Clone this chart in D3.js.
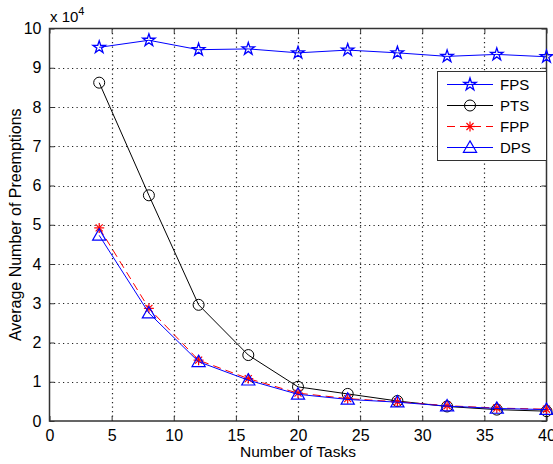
<!DOCTYPE html>
<html><head><meta charset="utf-8">
<script src="https://cdn.jsdelivr.net/npm/d3@7"></script>
<style>body{margin:0;background:#fff}svg{display:block}text{font-family:"Liberation Sans",Arial,sans-serif;fill:#000}</style>
</head><body><svg id="c" width="553" height="464"></svg>
<script>
const tasks = [4,8,12,16,20,24,28,32,36,40];
const fps = [9.52,9.70,9.46,9.48,9.38,9.45,9.38,9.29,9.34,9.28];
const pts = [8.62,5.75,2.96,1.68,0.87,0.69,0.51,0.37,0.29,0.25];
const fpp = [4.92,2.87,1.55,1.08,0.71,0.57,0.49,0.39,0.33,0.30];
const dps = [4.73,2.75,1.51,1.04,0.68,0.55,0.48,0.38,0.32,0.29];
const xTicks = [0,5,10,15,20,25,30,35,40];
const yTicks = [0,1,2,3,4,5,6,7,8,9,10];
const seriesNames = ["FPS","PTS","FPP","DPS"];

const svg = d3.select("#c");
const L=49.5,R=546.5,T=28.5,B=421;
const x = d3.scaleLinear().domain([0,40]).range([L,R]);
const y = d3.scaleLinear().domain([0,10]).range([B,T]);

// grid
const g = svg.append("g");
g.selectAll(".vg").data(xTicks.slice(1,-1)).enter().append("line")
 .attr("x1",d=>Math.round(x(d))+0.5).attr("x2",d=>Math.round(x(d))+0.5).attr("y1",T).attr("y2",B)
 .attr("stroke","#222").attr("stroke-width",1.2).attr("stroke-dasharray","1.2,3.3");
g.selectAll(".hg").data(yTicks.slice(1,-1)).enter().append("line")
 .attr("y1",d=>Math.round(y(d))+0.5).attr("y2",d=>Math.round(y(d))+0.5).attr("x1",L).attr("x2",R)
 .attr("stroke","#222").attr("stroke-width",1.2).attr("stroke-dasharray","1.2,3.3");

// axes (ticks inward)
const xa = svg.append("g").attr("transform",`translate(0,${B})`)
 .call(d3.axisBottom(x).tickValues(xTicks).tickSize(-5).tickPadding(9).tickFormat(d3.format("d")));
const xt = svg.append("g").attr("transform",`translate(0,${T})`)
 .call(d3.axisTop(x).tickValues(xTicks).tickSize(-5).tickFormat(""));
const ya = svg.append("g").attr("transform",`translate(${L},0)`)
 .call(d3.axisLeft(y).tickValues(yTicks).tickSize(-5).tickPadding(8).tickFormat(d3.format("d")));
const yr = svg.append("g").attr("transform",`translate(${R},0)`)
 .call(d3.axisRight(y).tickValues(yTicks).tickSize(-5).tickFormat(""));
[xa,xt,ya,yr].forEach(a=>{a.select(".domain").remove();a.selectAll("line").attr("stroke","#333");
 a.selectAll("text").style("font-size","16px").attr("font-family","Liberation Sans, Arial, sans-serif").attr("fill","#000");});
svg.append("rect").attr("x",L).attr("y",T).attr("width",R-L).attr("height",B-T)
 .attr("fill","none").attr("stroke","#333").attr("stroke-width",1.5);

// multiplier
const mt = svg.append("text").attr("x",50).attr("y",22).style("font-size","15px").text("x 10");
mt.append("tspan").attr("dy",-7).style("font-size","11px").text("4");

// labels
svg.append("text").attr("x",(L+R)/2).attr("y",457).attr("text-anchor","middle").style("font-size","15.5px").text("Number of Tasks");
svg.append("text").attr("transform",`translate(21,${(T+B)/2}) rotate(-90)`).attr("text-anchor","middle").style("font-size","16px").text("Average Number of Preemptions");

const star = d3.symbol().type(d3.symbolStar).size(48);
const tri = d3.symbol().type(d3.symbolTriangle).size(75);
function drawMarker(sel, kind, color){
  if(kind==="star") sel.append("path").attr("d",star()).attr("fill","none").attr("stroke",color).attr("stroke-width",1.3);
  else if(kind==="circle") sel.append("circle").attr("r",5.5).attr("fill","none").attr("stroke",color).attr("stroke-width",1);
  else if(kind==="tri") sel.append("path").attr("d",tri()).attr("transform","translate(0,1)").attr("fill","none").attr("stroke",color).attr("stroke-width",1.2);
  else if(kind==="ast"){
    const r=5;
    [0,45,90,135].forEach(a=>{const rad=a*Math.PI/180;
      sel.append("line").attr("x1",-r*Math.cos(rad)).attr("y1",-r*Math.sin(rad)).attr("x2",r*Math.cos(rad)).attr("y2",r*Math.sin(rad))
       .attr("stroke",color).attr("stroke-width",1.2);});
  }
}
const series = [
 {name:"FPS",vals:fps,color:"#0000ff",mark:"star",dash:null},
 {name:"PTS",vals:pts,color:"#000000",mark:"circle",dash:null},
 {name:"FPP",vals:fpp,color:"#ff0000",mark:"ast",dash:"8,5"},
 {name:"DPS",vals:dps,color:"#0000ff",mark:"tri",dash:null}
];
const line = d3.line().x(d=>x(d[0])).y(d=>y(d[1]));
const order=[1,2,3,0];
order.forEach(i=>{const s=series[i];
  const pts2 = tasks.map((t,j)=>[t,s.vals[j]]);
  svg.append("path").attr("d",line(pts2)).attr("fill","none").attr("stroke",s.color).attr("stroke-width",1)
   .attr("stroke-dasharray",s.dash);
  pts2.forEach(p=>{drawMarker(svg.append("g").attr("transform",`translate(${x(p[0])},${y(p[1])})`),s.mark,s.color);});
});

// legend
const lg = svg.append("g");
lg.append("rect").attr("x",437.5).attr("y",71.5).attr("width",109).attr("height",89).attr("fill","#fff").attr("stroke","#333").attr("stroke-width",1);
series.forEach((s,i)=>{
  const yy = 84.5 + i*21;
  lg.append("line").attr("x1",447).attr("x2",493).attr("y1",yy).attr("y2",yy).attr("stroke",s.color).attr("stroke-width",1).attr("stroke-dasharray",s.dash);
  drawMarker(lg.append("g").attr("transform",`translate(470,${yy})`),s.mark,s.color);
  lg.append("text").attr("x",500).attr("y",yy+5.5).style("font-size","15px").text(seriesNames[i]);
});
</script></body></html>
